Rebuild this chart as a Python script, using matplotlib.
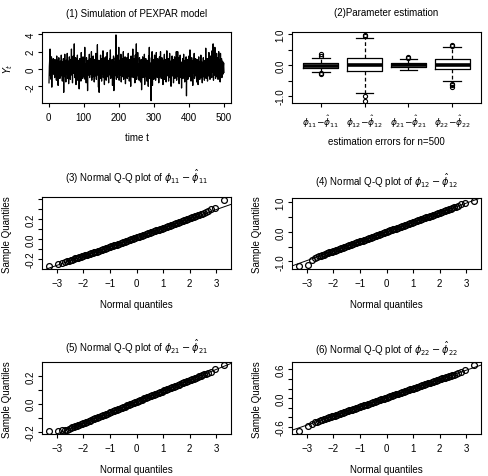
import numpy as np
import matplotlib
matplotlib.use('Agg')
import matplotlib.pyplot as plt
from matplotlib.ticker import FixedLocator, FixedFormatter

plt.rcParams['font.family'] = ['Liberation Sans', 'DejaVu Sans']
plt.rcParams['font.size'] = 7
plt.rcParams['axes.linewidth'] = 0.8

# (1) simulated PEXPAR series, t = 1..500
series_y = [
    -1.6, 0.3, 1.1, 2.3, -0.8, 0.5, -1.2, 1.4, -2.1, 0.2, 0.9, -0.4, 1.2, -0.6, 0.4, 0.8, -1.0, 1.1, 0.1, -0.5,
    0.7, -1.3, 1.5, 0.2, -0.7, 1.0, -1.9, 0.6, 1.3, -0.3, 0.4, -1.1, 0.9, 0.0, -0.8, 1.6, -0.2, 0.5, -1.4, 0.8,
    -0.3, 1.2, -2.7, 0.6, 0.1, 1.7, -0.9, 0.4, -1.5, 1.0, 0.3, -0.6, 1.8, -1.1, 0.5, 0.9, -1.7, 0.2, 1.4, -0.4,
    0.6, -1.2, 1.1, -0.1, 2.3, -0.7, 0.8, -1.6, 0.3, 1.5, -0.5, 0.2, 2.9, -1.0, 0.7, -0.3, 1.3, -1.8, 0.4, 0.9,
    -0.6, 1.6, -1.3, 0.5, -0.2, 1.0, -2.3, 0.7, 1.2, -0.8, 0.3, -1.4, 1.9, 0.1, -0.5, 0.8, -1.1, 1.4, 0.0, -0.9,
    1.1, -0.4, 2.5, -1.2, 0.6, 0.2, -1.6, 1.3, -0.3, 0.9, -2.5, 0.5, 1.0, -0.7, 0.4, 1.7, -1.0, 0.3, -0.6, 1.2,
    -0.2, 2.0, -1.3, 0.7, 0.1, -0.9, 1.5, -0.4, 0.8, -1.5, 0.5, 1.1, -0.8, 0.2, 1.8, -1.2, 0.6, -0.3, 2.8, -0.7,
    0.4, -2.1, 1.0, -2.7, 0.9, 0.3, -1.1, 1.6, -0.5, 0.7, -1.4, 1.2, 0.0, -0.6, 2.1, -1.0, 0.5, 1.3, -1.8, 0.2,
    0.8, -0.4, 1.4, -1.3, 0.6, -0.1, 1.9, -0.9, 0.3, 1.0, -1.6, 0.5, -0.3, 1.2, -0.7, 2.2, -1.1, 0.4, 0.9, -0.5,
    1.1, -1.9, 0.6, -0.2, 1.5, -2.5, 0.3, 0.8, -0.8, 1.3, -0.4, 3.93, -1.2, 0.5, 0.1, -1.0, 1.6, -0.6, 0.7, 2.5,
    -1.3, 0.4, 1.0, -0.7, 0.2, 1.7, -1.5, 0.6, -0.3, 1.2, -0.9, 0.5, 2.0, -1.2, 0.3, 0.8, -0.5, 1.4, -1.7, 0.1,
    0.9, -0.6, 1.3, -1.1, 0.4, 0.0, 1.8, -0.8, 0.6, -1.4, 1.1, -0.2, 0.7, -2.0, 1.5, 0.2, -0.9, 1.0, -0.4, 2.3,
    -1.0, 0.5, 1.2, -0.7, 0.3, -1.6, 1.6, -0.3, 0.8, 2.9, -1.2, 0.4, -0.5, 1.9, -0.8, 0.6, 0.1, -1.3, 1.3, -0.2,
    0.7, -1.5, 0.3, 1.1, -2.4, 0.5, -0.4, 1.4, -1.0, 0.2, 0.9, -0.6, 1.7, -1.8, 0.4, -0.1, 1.2, -0.9, 0.6, -1.4,
    1.0, -0.3, 0.5, -2.0, 1.5, -0.8, 2.5, -1.1, 0.7, 0.2, -1.7, -3.66, 1.3, -0.5, 2.0, -1.9, 0.6, -0.2, 1.1, -1.2,
    0.4, 1.6, -0.7, 0.9, -1.3, 0.3, 1.9, -0.6, 0.5, -1.0, 1.2, -0.4, 0.8, -1.6, 0.1, 1.4, -0.9, 0.6, 2.0, -0.3,
    -1.1, 0.7, 1.3, -0.5, 0.2, -1.8, 1.0, -0.2, 0.6, 1.7, -1.2, 0.4, -0.7, 1.1, -1.5, 0.3, 2.1, -0.8, 0.5, -0.1,
    1.2, -1.4, 0.6, -0.4, 1.8, -1.0, 0.3, 0.9, -2.0, 0.7, -0.3, 1.5, -0.8, 0.2, 1.1, -1.6, 0.5, -0.6, 1.4, -1.1,
    0.4, 1.0, -0.5, 2.0, -1.3, 0.6, -0.2, 2.0, -0.9, 0.3, 1.3, -1.7, 0.5, -0.4, 1.6, -1.0, 0.2, 0.8, -2.2, 0.7,
    -0.3, 1.2, -1.1, 0.5, 1.7, -0.6, 0.1, -1.5, 1.0, -0.8, 0.6, 1.4, -3.1, 0.3, -0.4, 1.1, -1.2, 0.7, 0.0, 1.5,
    -0.9, 0.4, 2.2, -0.6, 0.8, -1.4, 0.2, 1.3, -0.3, 0.6, -1.9, 1.0, -0.5, 0.3, 1.8, -1.1, 0.5, -0.2, 1.2, -0.8,
    0.6, -1.5, 1.1, -0.1, 0.7, -1.8, 0.4, 1.4, -0.7, 0.2, -1.2, 0.9, -0.4, 1.6, -1.0, 0.3, 0.8, -1.6, 0.5, -0.3,
    1.3, -0.9, 0.6, -1.3, 0.2, 1.0, -0.5, 2.4, -1.1, 0.4, -0.6, 1.2, -1.4, 0.7, 0.1, -0.8, 1.9, -0.3, 0.5, -1.2,
    0.8, 1.5, -0.6, 0.3, -1.0, 2.1, -0.4, 0.9, 2.9, -1.3, 0.5, 1.7, -0.7, 2.5, 0.2, -1.1, 0.8, -0.5, 1.8, -0.9,
    0.4, 1.3, -1.2, 0.6, 2.0, -0.8, 0.3, 1.1, -1.5, 1.8, 0.1, -0.7, 1.2, -1.0, 0.5, 0.9, -0.6, 0.2, 0.7, -0.4,
]

# (2) boxplot summaries of the estimation errors
box_labels = [r'$\phi_{11}{-}\hat{\phi}_{11}$', r'$\phi_{12}{-}\hat{\phi}_{12}$',
              r'$\phi_{21}{-}\hat{\phi}_{21}$', r'$\phi_{22}{-}\hat{\phi}_{22}$']
box_med = [-0.02, 0.01, 0.00, 0.01]
box_q1 = [-0.10, -0.20, -0.06, -0.14]
box_q3 = [0.06, 0.24, 0.07, 0.19]
box_lo = [-0.23, -0.91, -0.16, -0.52]
box_hi = [0.22, 0.87, 0.19, 0.57]
box_out = [[0.36, 0.29, -0.26, -0.29],
           [0.97, 0.93, -1.00, -1.15],
           [0.26, 0.23],
           [0.66, 0.62, -0.60, -0.63, -0.71]]

# (3)-(6) normal Q-Q plots: theoretical quantiles and sample quantiles
norm_quant = [
    -3.29, -2.97, -2.81, -2.69, -2.60, -2.53, -2.47, -2.41, -2.36,
    -2.30, -2.25, -2.20, -2.15, -2.10, -2.05, -2.00, -1.95, -1.90, -1.85,
    -1.80, -1.75, -1.70, -1.65, -1.60, -1.55, -1.50, -1.45, -1.40, -1.35,
    -1.30, -1.25, -1.20, -1.15, -1.10, -1.05, -1.00, -0.95, -0.90, -0.85,
    -0.80, -0.75, -0.70, -0.65, -0.60, -0.55, -0.50, -0.45, -0.40, -0.35,
    -0.30, -0.25, -0.20, -0.15, -0.10, -0.05, 0.00, 0.05, 0.10, 0.15,
    0.20, 0.25, 0.30, 0.35, 0.40, 0.45, 0.50, 0.55, 0.60, 0.65,
    0.70, 0.75, 0.80, 0.85, 0.90, 0.95, 1.00, 1.05, 1.10, 1.15,
    1.20, 1.25, 1.30, 1.35, 1.40, 1.45, 1.50, 1.55, 1.60, 1.65,
    1.70, 1.75, 1.80, 1.85, 1.90, 1.95, 2.00, 2.05, 2.10, 2.15,
    2.20, 2.25, 2.30,
    2.36, 2.41, 2.47, 2.53, 2.60, 2.69, 2.81, 2.97, 3.29,
]
err_11 = [
    -0.272, -0.250, -0.238, -0.225, -0.220, -0.214, -0.210, -0.206, -0.203,
    -0.193, -0.189, -0.185, -0.181, -0.177, -0.172, -0.168, -0.163, -0.159, -0.155,
    -0.151, -0.147, -0.142, -0.138, -0.134, -0.129, -0.125, -0.120, -0.115, -0.111,
    -0.106, -0.101, -0.097, -0.092, -0.087, -0.083, -0.078, -0.073, -0.069, -0.064,
    -0.059, -0.055, -0.050, -0.045, -0.041, -0.036, -0.032, -0.027, -0.022, -0.018,
    -0.013, -0.008, -0.004, 0.001, 0.006, 0.010, 0.015, 0.020, 0.024, 0.029,
    0.034, 0.038, 0.043, 0.048, 0.052, 0.057, 0.062, 0.066, 0.071, 0.075,
    0.080, 0.085, 0.089, 0.094, 0.099, 0.103, 0.108, 0.113, 0.117, 0.122,
    0.127, 0.131, 0.136, 0.141, 0.145, 0.150, 0.155, 0.160, 0.166, 0.171,
    0.177, 0.182, 0.186, 0.191, 0.196, 0.200, 0.205, 0.210, 0.214, 0.219,
    0.224, 0.229, 0.234,
    0.240, 0.246, 0.252, 0.258, 0.268, 0.281, 0.296, 0.308, 0.388,
]
err_12 = [
    -1.17, -1.13, -0.97, -0.90, -0.86, -0.83, -0.81, -0.79, -0.77,
    -0.748, -0.731, -0.715, -0.699, -0.683, -0.666, -0.650, -0.634, -0.618, -0.601,
    -0.585, -0.569, -0.553, -0.536, -0.520, -0.504, -0.488, -0.471, -0.455, -0.439,
    -0.423, -0.406, -0.390, -0.374, -0.358, -0.341, -0.325, -0.309, -0.293, -0.276,
    -0.260, -0.244, -0.228, -0.211, -0.195, -0.179, -0.163, -0.146, -0.130, -0.114,
    -0.098, -0.081, -0.065, -0.049, -0.033, -0.016, 0.000, 0.016, 0.033, 0.049,
    0.065, 0.081, 0.098, 0.114, 0.130, 0.146, 0.163, 0.179, 0.195, 0.211,
    0.228, 0.244, 0.260, 0.276, 0.293, 0.309, 0.325, 0.341, 0.358, 0.374,
    0.390, 0.406, 0.423, 0.439, 0.455, 0.471, 0.488, 0.504, 0.520, 0.536,
    0.553, 0.569, 0.585, 0.601, 0.618, 0.634, 0.650, 0.666, 0.683, 0.699,
    0.715, 0.731, 0.748,
    0.77, 0.79, 0.81, 0.83, 0.85, 0.88, 0.93, 0.97, 1.06,
]
err_21 = [
    -0.197, -0.193, -0.190, -0.187, -0.184, -0.178, -0.173, -0.169, -0.166,
    -0.162, -0.158, -0.154, -0.151, -0.147, -0.143, -0.139, -0.135, -0.131, -0.127,
    -0.124, -0.120, -0.116, -0.112, -0.108, -0.104, -0.101, -0.097, -0.093, -0.089,
    -0.085, -0.081, -0.077, -0.074, -0.070, -0.066, -0.062, -0.058, -0.054, -0.050,
    -0.047, -0.043, -0.039, -0.035, -0.031, -0.027, -0.024, -0.020, -0.016, -0.012,
    -0.008, -0.004, 0.000, 0.003, 0.007, 0.011, 0.015, 0.019, 0.023, 0.027,
    0.030, 0.034, 0.038, 0.042, 0.046, 0.050, 0.054, 0.057, 0.061, 0.065,
    0.069, 0.073, 0.077, 0.080, 0.084, 0.088, 0.092, 0.096, 0.100, 0.104,
    0.107, 0.111, 0.115, 0.119, 0.123, 0.127, 0.131, 0.134, 0.138, 0.142,
    0.146, 0.150, 0.154, 0.157, 0.161, 0.165, 0.169, 0.173, 0.177, 0.181,
    0.184, 0.188, 0.192,
    0.197, 0.201, 0.206, 0.210, 0.215, 0.222, 0.228, 0.252, 0.278,
]
err_22 = [
    -0.69, -0.57, -0.53, -0.50, -0.49, -0.475, -0.462, -0.450, -0.440,
    -0.427, -0.418, -0.408, -0.399, -0.389, -0.380, -0.370, -0.361, -0.351, -0.342,
    -0.332, -0.323, -0.313, -0.304, -0.294, -0.285, -0.275, -0.266, -0.256, -0.247,
    -0.237, -0.228, -0.218, -0.209, -0.199, -0.190, -0.180, -0.171, -0.161, -0.152,
    -0.142, -0.133, -0.123, -0.114, -0.104, -0.095, -0.085, -0.076, -0.066, -0.057,
    -0.047, -0.038, -0.028, -0.019, -0.009, 0.001, 0.010, 0.020, 0.029, 0.039,
    0.048, 0.058, 0.067, 0.077, 0.086, 0.096, 0.105, 0.115, 0.124, 0.134,
    0.143, 0.153, 0.162, 0.172, 0.181, 0.191, 0.200, 0.210, 0.219, 0.229,
    0.238, 0.248, 0.257, 0.267, 0.276, 0.286, 0.295, 0.305, 0.314, 0.324,
    0.333, 0.343, 0.352, 0.362, 0.371, 0.381, 0.390, 0.400, 0.409, 0.419,
    0.428, 0.438, 0.447,
    0.458, 0.468, 0.478, 0.490, 0.505, 0.525, 0.548, 0.580, 0.690,
]

W, H = 488, 477
fig = plt.figure(figsize=(W / 100, H / 100), dpi=100)


def add_panel(l, t, r, b):
    ax = fig.add_axes([l / W, 1 - b / H, (r - l) / W, (b - t) / H])
    ax.tick_params(direction='out', length=3.2, width=0.8, colors='black')
    ax.tick_params(axis='x', pad=3.0)
    ax.tick_params(axis='y', pad=1.5)
    return ax


def r_range(vals):
    lo, hi = min(vals), max(vals)
    pad = 0.04 * (hi - lo)
    return lo - pad, hi + pad


def r_yticks(ax, ticks, labels):
    ax.yaxis.set_major_locator(FixedLocator(ticks))
    ax.yaxis.set_major_formatter(FixedFormatter(labels))
    for lab in ax.get_yticklabels():
        lab.set_rotation(90)
        lab.set_va('center')


def r_labels(ax, xlab, xy, ylab=None, yx=None):
    ax.set_xlabel(xlab, va='center')
    ax.xaxis.set_label_coords(0.5, xy)
    if ylab is not None:
        ax.set_ylabel(ylab, va='center')
        ax.yaxis.set_label_coords(yx, 0.5)


def panel_title(ax, text, ybase):
    ax.text(0.5, ybase, text, transform=ax.transAxes, ha='center', va='baseline', fontsize=7)


# (1) time series
ax1 = add_panel(42, 33.3, 231, 104.3)
t = np.arange(1, len(series_y) + 1)
ax1.plot(t, series_y, color='black', lw=0.9)
ax1.set_xlim(r_range(t))
ax1.set_ylim(r_range(series_y))
ax1.set_xticks([0, 100, 200, 300, 400, 500])
r_yticks(ax1, [-2, 0, 2, 4], ['-2', '0', '2', '4'])
r_labels(ax1, 'time t', -0.48, r'$Y_t$', -0.18)
panel_title(ax1, '(1) Simulation of PEXPAR model', 1.23)

# (2) boxplots
ax2 = add_panel(292, 33.3, 481, 104.3)
stats = []
all_vals = []
for i in range(len(box_labels)):
    stats.append(dict(med=box_med[i], q1=box_q1[i], q3=box_q3[i],
                      whislo=box_lo[i], whishi=box_hi[i], fliers=box_out[i]))
    all_vals += [box_lo[i], box_hi[i]] + box_out[i]
ax2.bxp(stats, positions=[1, 2, 3, 4], widths=0.8, capwidths=0.4,
        boxprops=dict(color='black', lw=0.9),
        medianprops=dict(color='black', lw=2.6, solid_capstyle='butt'),
        whiskerprops=dict(color='black', lw=0.9, ls=(0, (3, 2))),
        capprops=dict(color='black', lw=0.9),
        flierprops=dict(marker='o', ms=3, mfc='none', mec='black', mew=0.8))
ax2.set_xlim(0.34, 4.66)
ax2.set_ylim(r_range(all_vals))
ax2.set_xticks([1, 2, 3, 4])
ax2.set_xticklabels(box_labels, fontsize=6.5)
r_yticks(ax2, [-1.0, -0.5, 0.0, 0.5, 1.0], ['-1.0', '', '0.0', '', '1.0'])
r_labels(ax2, 'estimation errors for n=500', -0.53)
panel_title(ax2, '(2)Parameter estimation', 1.24)

# (3)-(6) Q-Q plots
qq_panels = [
    ((42, 198.3, 231, 270), err_11, r'(3) Normal Q-Q plot of $\phi_{11}-\hat{\phi}_{11}$', 1.23,
     [-0.3, -0.2, -0.1, 0.0, 0.1, 0.2, 0.3, 0.4], ['', '-0.2', '', '0.0', '', '0.2', '', '']),
    ((292, 199, 481, 270), err_12, r'(4) Normal Q-Q plot of $\phi_{12}-\hat{\phi}_{12}$', 1.19,
     [-1.0, -0.5, 0.0, 0.5, 1.0], ['-1.0', '', '0.0', '', '1.0']),
    ((42, 363.3, 231, 435), err_21, r'(5) Normal Q-Q plot of $\phi_{21}-\hat{\phi}_{21}$', 1.16,
     [-0.2, -0.1, 0.0, 0.1, 0.2], ['-0.2', '', '0.0', '', '0.2']),
    ((292, 363.3, 481, 435), err_22, r'(6) Normal Q-Q plot of $\phi_{22}-\hat{\phi}_{22}$', 1.13,
     [-0.6, -0.4, -0.2, 0.0, 0.2, 0.4, 0.6], ['-0.6', '', '', '0.0', '', '', '0.6']),
]
for rect, yvals, title, ty, yt, yl in qq_panels:
    ax = add_panel(*rect)
    ax.plot(norm_quant, yvals, ls='none', marker='o', ms=4.2, mfc='none', mec='black', mew=0.9)
    ax.set_xlim(r_range(norm_quant))
    ax.set_ylim(r_range(yvals))
    # qqline through the quartiles
    q1 = np.interp(-0.6745, norm_quant, yvals)
    q3 = np.interp(0.6745, norm_quant, yvals)
    slope = (q3 - q1) / (2 * 0.6745)
    ax.axline((0, (q1 + q3) / 2), slope=slope, color='black', lw=0.7)
    ax.set_xticks([-3, -2, -1, 0, 1, 2, 3])
    r_yticks(ax, yt, yl)
    r_labels(ax, 'Normal quantiles', -0.49, 'Sample Quantiles', -0.187)
    panel_title(ax, title, ty)

fig.savefig('out.png', dpi=100)
